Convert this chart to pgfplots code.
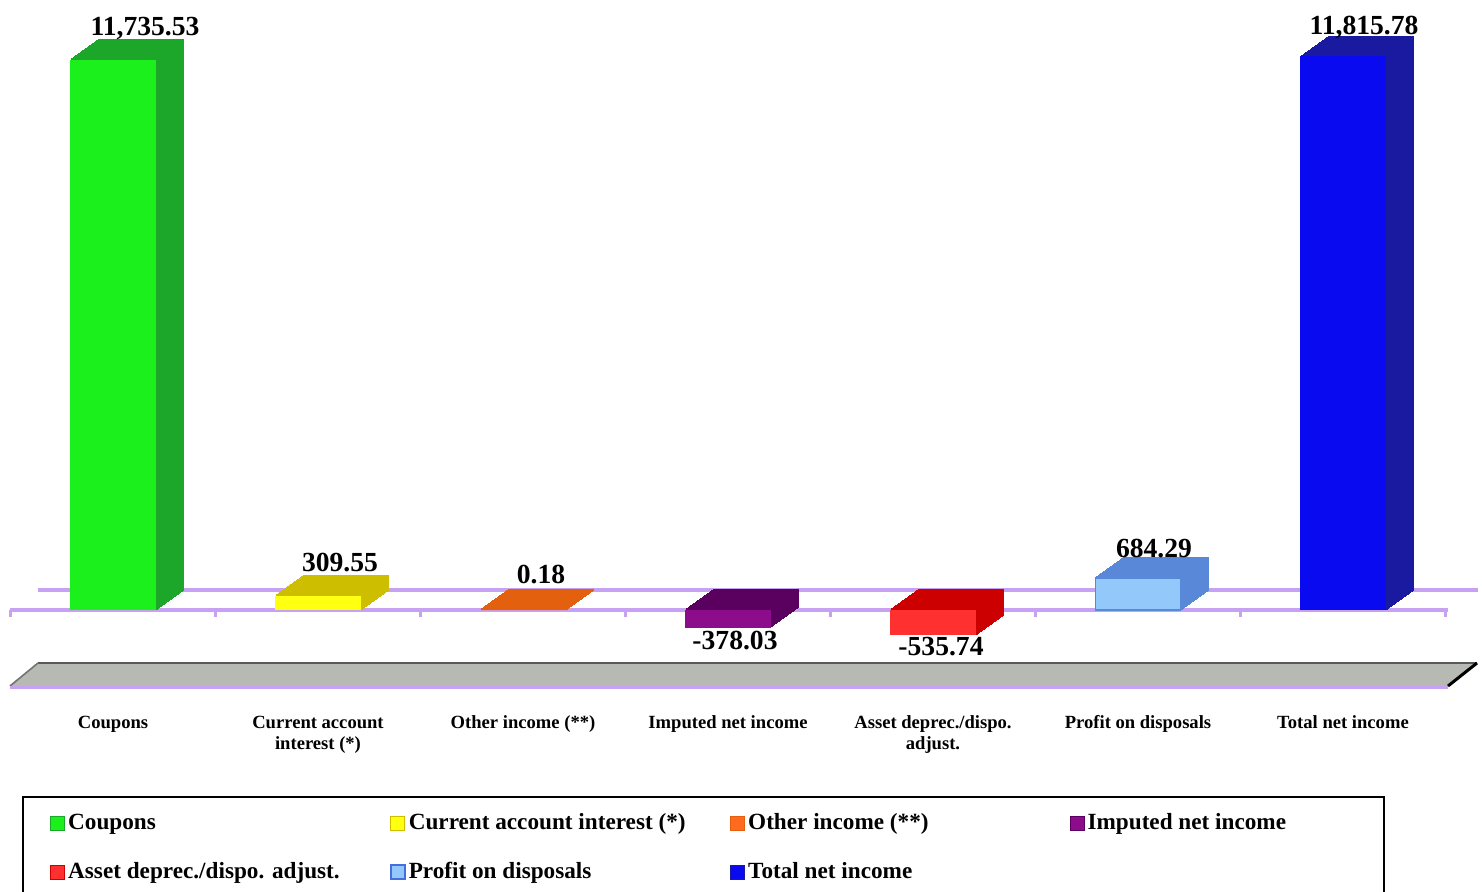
\documentclass[border=0pt]{standalone}
\usepackage{fontspec}
\setmainfont{Liberation Serif}
\usepackage{pgfplots}
\pgfplotsset{compat=1.18}

\definecolor{cA}{HTML}{1CF01C} \definecolor{dA}{HTML}{1CA62A}
\definecolor{cB}{HTML}{FFFF10} \definecolor{dB}{HTML}{CDBE00}
\definecolor{cC}{HTML}{FF6A20} \definecolor{dC}{HTML}{E2600E}
\definecolor{cD}{HTML}{8C0C8C} \definecolor{dD}{HTML}{5A005E}
\definecolor{cE}{HTML}{FF3030} \definecolor{dE}{HTML}{CC0000}
\definecolor{cF}{HTML}{92C8FA} \definecolor{dF}{HTML}{5A88D8}
\definecolor{cG}{HTML}{0A0AF0} \definecolor{dG}{HTML}{1A1AA0}
\definecolor{lav}{HTML}{C8A2F2}
\definecolor{floorgrey}{HTML}{B6BAB2}

\newcommand{\lblfont}{\fontsize{13.8}{16}\selectfont\bfseries}

\pgfplotsset{
  base/.style={
    width=717.5pt, height=330pt, scale only axis,
    xmin=-0.5, xmax=6.5, ymin=-1920.2, ymax=12161.5,
    axis line style={draw=none}, tick style={draw=none},
    xtick=\empty, ytick=\empty, clip=false, anchor=south west,
  },
  mybar/.style={ybar, bar width=0.415, bar shift=0pt},
  lbl/.style={every node near coord/.append style={inner sep=0pt, text depth=0pt, font=\lblfont, #1}},
}

% depth layers of the 3D bars
\newcommand{\backbars}{%
  \addplot[mybar, fill=dA, draw=dA, line width=0.6pt] coordinates {(0,11735.53)};
  \addplot[mybar, fill=dB, draw=dB, line width=0.6pt] coordinates {(1,309.55)};
  \addplot[mybar, fill=dC, draw=dC, line width=0.6pt] coordinates {(2,0.18)};
  \addplot[mybar, fill=dD, draw=dD, line width=0.6pt] coordinates {(3,-378.03)};
  \addplot[mybar, fill=dE, draw=dE, line width=0.6pt] coordinates {(4,-535.74)};
  \addplot[mybar, fill=dF, draw=dF, line width=0.6pt] coordinates {(5,684.29)};
  \addplot[mybar, fill=dG, draw=dG, line width=0.6pt] coordinates {(6,11815.78)};
}

\begin{document}
\begin{tikzpicture}
\path[use as bounding box] (0,0) rectangle (741pt,445.5pt);
\clip (0,0) rectangle (741pt,445.5pt);

\begin{scope}[x=0.5pt,y=-0.5pt,yshift=445.5pt]
  % floor
  \fill[floorgrey] (10,686) -- (38,663) -- (1477,663) -- (1448,686) -- cycle;
  \draw[black!65, line width=1pt] (38,663) -- (1477,663);
  \draw[black, line width=1.5pt] (1448,686) -- (1477,663);
  \draw[black!55, line width=0.8pt] (10,686) -- (38,663);
  \draw[lav, line width=1.5pt] (10,687) -- (1448,687);
  % zero lines
  \draw[lav, line width=2pt] (38,590) -- (1478,590);
  \draw[lav, line width=2pt] (10,610) -- (1448,610);
  \foreach \i in {0,...,7} \draw[lav, line width=1.5pt] (10.5+205*\i,610) -- ++(0,7);
  % legend frame
  \draw[black, line width=1.2pt] (23,950) -- (23,797) -- (1384,797) -- (1384,950);
\end{scope}

\foreach \k in {20,19,...,1} {
  \begin{axis}[base, at={(5.25pt+\k*0.7pt, 95.5pt+\k*0.5pt)}]
    \backbars
  \end{axis}
}

\begin{axis}[base, at={(5.25pt,95.5pt)},
  xtick={0,...,6},
  xticklabels={Coupons, {Current account\\interest (*)}, Other income (**),
    Imputed net income, {Asset deprec./dispo.\\adjust.}, Profit on disposals, Total net income},
  typeset ticklabels with strut,
  xticklabel style={font=\fontsize{9.3}{10.5}\selectfont\bfseries, align=center, yshift=-3.5pt},
  legend columns=4,
  legend cell align=left,
  legend style={at={(0.02753,-0.1652)}, anchor=north west, draw=none, fill=none,
    inner sep=0pt, font=\fontsize{11.6}{13}\selectfont\bfseries, row sep=11pt,
    nodes={inner xsep=1.5pt}},
]
\addplot[mybar, fill=cA, draw=none, nodes near coords={{11,735.53}}, lbl={xshift=16pt, yshift=12pt},
  legend image code/.code={\draw[fill=cA, draw=dA, line width=0.4pt] (0pt,-3.5pt) rectangle (7pt,3.5pt);}]
  coordinates {(0,11735.53)};
\addlegendentry{\makebox[159.3pt][l]{Coupons}}
\addplot[mybar, fill=cB, draw=none, nodes near coords={309.55}, lbl={xshift=11pt, yshift=11.75pt},
  legend image code/.code={\draw[fill=cB, draw=dB, line width=0.4pt] (0pt,-3.5pt) rectangle (7pt,3.5pt);}]
  coordinates {(1,309.55)};
\addlegendentry{\makebox[159.3pt][l]{Current account interest (*)}}
\addplot[mybar, fill=cC, draw=none, nodes near coords={0.18}, lbl={xshift=9pt, yshift=13pt},
  legend image code/.code={\draw[fill=cC, draw=dC, line width=0.4pt] (0pt,-3.5pt) rectangle (7pt,3.5pt);}]
  coordinates {(2,0.18)};
\addlegendentry{\makebox[159.3pt][l]{Other income (**)}}
\addplot[mybar, fill=cD, draw=none, nodes near coords={-378.03}, lbl={xshift=3.5pt, yshift=-1.5pt},
  legend image code/.code={\draw[fill=cD, draw=dD, line width=0.4pt] (0pt,-3.5pt) rectangle (7pt,3.5pt);}]
  coordinates {(3,-378.03)};
\addlegendentry{Imputed net income}
\addplot[mybar, fill=cE, draw=none, nodes near coords={-535.74}, lbl={xshift=4pt, yshift=-1pt},
  legend image code/.code={\draw[fill=cE, draw=dE, line width=0.4pt] (0pt,-3.5pt) rectangle (7pt,3.5pt);}]
  coordinates {(4,-535.74)};
\addlegendentry{\makebox[159.3pt][l]{Asset deprec./dispo. adjust.}}
\addplot[mybar, fill=cF, draw=dF, line width=0.8pt, nodes near coords={684.29}, lbl={xshift=8pt, yshift=10pt},
  legend image code/.code={\draw[fill=cF, draw=dF!80!blue, line width=1pt] (0pt,-3.5pt) rectangle (7pt,3.5pt);}]
  coordinates {(5,684.29)};
\addlegendentry{\makebox[159.3pt][l]{Profit on disposals}}
\addplot[mybar, fill=cG, draw=none, nodes near coords={{11,815.78}}, lbl={xshift=10.5pt, yshift=10.5pt},
  legend image code/.code={\draw[fill=cG, draw=dG, line width=0.4pt] (0pt,-3.5pt) rectangle (7pt,3.5pt);}]
  coordinates {(6,11815.78)};
\addlegendentry{\makebox[159.3pt][l]{Total net income}}
\end{axis}
\end{tikzpicture}
\end{document}
